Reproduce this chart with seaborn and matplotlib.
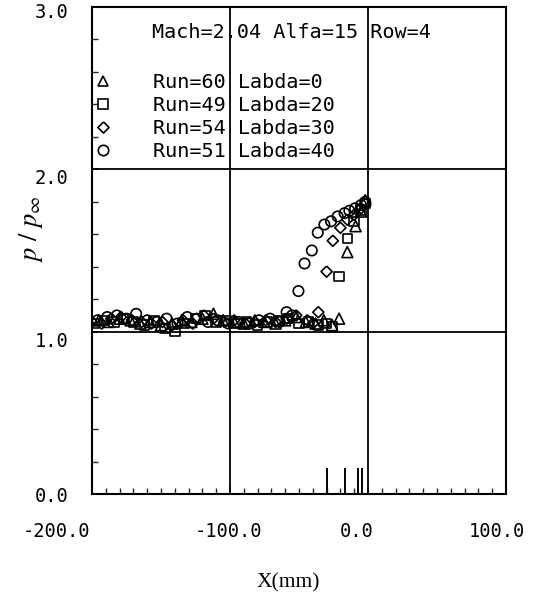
import numpy as np
import pandas as pd
import matplotlib
matplotlib.use("Agg")
import matplotlib.pyplot as plt
import matplotlib.transforms as mtransforms
from matplotlib.lines import Line2D
import seaborn as sns

# Wall pressure along X for four runs (row 4)
run60_x = [-195, -188, -180, -172, -165, -158, -150, -142, -135, -128, -120, -112, -105, -97, -90,
           -82, -75, -67, -60, -52, -45, -38, -32, -26, -21, -15, -9, -5, -2]
run60_y = [1.07, 1.06, 1.08, 1.07, 1.05, 1.06, 1.04, 1.05, 1.07, 1.06, 1.08, 1.11, 1.07, 1.06, 1.05,
           1.07, 1.06, 1.05, 1.07, 1.09, 1.06, 1.05, 1.07, 1.04, 1.08, 1.49, 1.65, 1.74, 1.81]

run49_x = [-198, -191, -184, -177, -170, -162, -155, -147, -140, -133, -125, -118, -110, -103, -95,
           -88, -80, -73, -65, -58, -50, -43, -36, -30, -26, -21, -15, -10, -5, -2]
run49_y = [1.05, 1.07, 1.06, 1.08, 1.06, 1.04, 1.07, 1.02, 1.00, 1.05, 1.08, 1.10, 1.06, 1.07, 1.05,
           1.06, 1.04, 1.06, 1.07, 1.08, 1.05, 1.06, 1.04, 1.05, 1.03, 1.34, 1.575, 1.68, 1.75, 1.79]

run54_x = [-200, -193, -186, -179, -171, -164, -157, -149, -142, -134, -127, -119, -112, -104, -97,
           -89, -82, -74, -67, -59, -52, -44, -40, -36, -30, -25.5, -20, -15, -10, -5, -2]
run54_y = [1.06, 1.05, 1.08, 1.09, 1.07, 1.06, 1.05, 1.06, 1.04, 1.07, 1.05, 1.10, 1.08, 1.06, 1.07,
           1.05, 1.06, 1.07, 1.06, 1.08, 1.10, 1.07, 1.05, 1.12, 1.37, 1.56, 1.64, 1.69, 1.72, 1.76, 1.79]

run51_x = [-196, -189, -182, -175, -168, -160, -153, -146, -138, -131, -124, -116, -109, -101, -94,
           -86, -79, -71, -64, -59, -55, -50.4, -46, -40.7, -36.4, -31.6, -26.8, -22, -17, -13.5,
           -9.4, -5, -2]
run51_y = [1.07, 1.09, 1.10, 1.08, 1.11, 1.07, 1.06, 1.08, 1.05, 1.09, 1.08, 1.06, 1.07, 1.05, 1.06,
           1.05, 1.07, 1.08, 1.06, 1.12, 1.10, 1.25, 1.42, 1.50, 1.61, 1.66, 1.68, 1.71, 1.73, 1.745,
           1.76, 1.78, 1.80]

run_labels = ["Run=60 Labda=0", "Run=49 Labda=20", "Run=54 Labda=30", "Run=51 Labda=40"]

# Tap positions marked on the X axis
sensor_x = [-30, -16.4, -7.2, -4.3]
sensor_h = 0.16

x_ticks = [-200, -100, 0, 100]
x_ticklabels = ["-200.0", "-100.0", "0.0", "100.0"]
y_ticks = [0, 1, 2, 3]
y_ticklabels = ["0.0", "1.0", "2.0", "3.0"]

title_text = "Mach=2.04 Alfa=15 Row=4"

sns.set_theme(style="white")
plt.rcParams["font.family"] = ["DejaVu Sans Mono", "DejaVu Sans"]
plt.rcParams["mathtext.fontset"] = "stix"

fig = plt.figure(figsize=(5.37, 5.97), dpi=100)
ax = fig.add_axes([92 / 537, 1 - 494 / 597, 414 / 537, 487 / 597])

diamond = [(0, 1), (1, 0), (0, -1), (-1, 0), (0, 1)]
series = [
    (run60_x, run60_y, "^", 62),
    (run49_x, run49_y, "s", 46),
    (run54_x, run54_y, diamond, 64),
    (run51_x, run51_y, "o", 56),
]

handles = []
for (xs, ys, mk, sz), lab in zip(series, run_labels):
    df = pd.DataFrame({"x": xs, "y": ys})
    sns.scatterplot(data=df, x="x", y="y", marker=mk, s=sz, ax=ax, color="black", legend=False)
    coll = ax.collections[-1]
    coll.set_facecolor("none")
    coll.set_edgecolor("black")
    coll.set_linewidth(1.2)
    handles.append(Line2D([], [], linestyle="none", marker=mk, markersize=np.sqrt(sz),
                          markerfacecolor="none", markeredgecolor="black", markeredgewidth=1.2,
                          label=lab))

ax.vlines(sensor_x, 0, sensor_h, color="black", lw=1.4)

ax.set_xlim(-200, 100)
ax.set_ylim(0, 3)
for v in [-100, 0]:
    ax.axvline(v, color="black", lw=1.3, zorder=0.5)
for v in [1, 2]:
    ax.axhline(v, color="black", lw=1.3, zorder=0.5)

for sp in ax.spines.values():
    sp.set_color("black")
    sp.set_linewidth(1.5)

ax.set_xticks(x_ticks)
ax.set_xticklabels(x_ticklabels)
ax.set_yticks(y_ticks)
ax.set_yticklabels(y_ticklabels)
ax.set_xticks(np.arange(-200, 101, 10), minor=True)
ax.set_yticks(np.arange(0, 3.01, 0.2), minor=True)
ax.tick_params(axis="both", which="major", direction="in", length=5, width=1.2,
               labelsize=13.5, colors="black", bottom=True, left=True)
ax.tick_params(axis="both", which="minor", direction="in", length=4, width=1.0,
               bottom=True, left=True)
ax.tick_params(axis="x", which="major", pad=20)
ax.tick_params(axis="y", which="major", pad=17)

# nudge tick labels to their plotted offsets
x_shift = {"-200.0": -36, "-100.0": -2, "0.0": -11, "100.0": -9}
for lab in ax.get_xticklabels():
    dx = x_shift.get(lab.get_text(), 0)
    lab.set_transform(lab.get_transform() + mtransforms.ScaledTranslation(dx / 100, 0, fig.dpi_scale_trans))
y_shift = {"0.0": 0, "1.0": -8, "2.0": -7, "3.0": -4}
for lab in ax.get_yticklabels():
    dy = y_shift.get(lab.get_text(), 0)
    lab.set_transform(lab.get_transform() + mtransforms.ScaledTranslation(0, dy / 100, fig.dpi_scale_trans))

ax.set_xlabel("X(mm)", family="Liberation Serif", fontsize=15.5, color="black")
ax.xaxis.set_label_coords(0.475, -0.162)
ax.set_ylabel(r"$p\ /\ p_{\infty}$", fontsize=19, color="black")
ax.yaxis.set_label_coords(-0.113, 0.545)

ax.text(0.145, 0.947, title_text, transform=ax.transAxes, fontsize=14.5,
        ha="left", va="center", color="black")

leg = ax.legend(handles=handles, loc="upper left", bbox_to_anchor=(-0.012, 0.877),
                frameon=False, prop={"family": "DejaVu Sans Mono", "size": 14.5},
                handlelength=1.0, handletextpad=2.0, labelspacing=0.2, borderpad=0.3,
                borderaxespad=0.0)
for t in leg.get_texts():
    t.set_color("black")

fig.savefig("out.png", dpi=100)
